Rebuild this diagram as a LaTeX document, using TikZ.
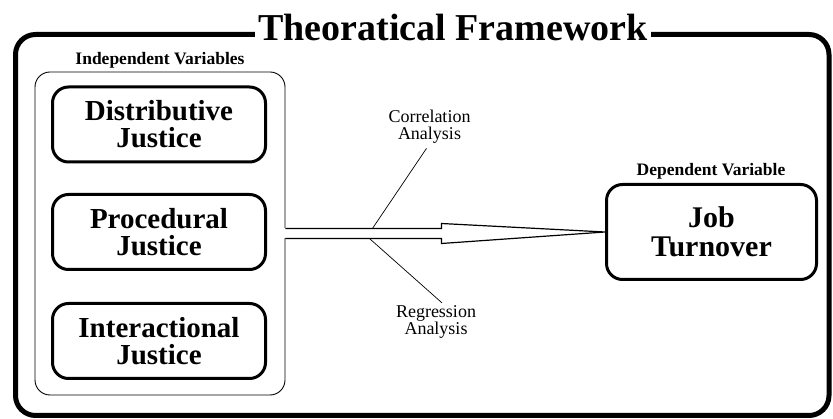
\documentclass[tikz,border=0pt]{standalone}
\usepackage{fontspec}
\setmainfont{Liberation Serif}
\usetikzlibrary{calc}

\begin{document}
\begin{tikzpicture}[x=1pt,y=-1pt]
  \useasboundingbox (0,0) rectangle (833,419);

  % outer frame with its title
  \draw[line width=5pt,rounded corners=20pt] (15.5,34.5) rectangle (829,415.5);
  \node[fill=white,inner xsep=3pt,inner ysep=0pt,font=\bfseries\fontsize{38}{40}\selectfont] (title) at (453,28) {Theoratical Framework};

  \begin{scope}[every node/.style={font=\bfseries\fontsize{17.5}{19}\selectfont,inner sep=0pt}]
    \node (indeplabel) at (160,60)  {Independent Variables};
    \node (deplabel)   at (711,171) {Dependent Variable};
  \end{scope}

  \node[draw,line width=0.9pt,rounded corners=15pt,minimum width=250pt,minimum height=323pt,inner sep=0pt] (indep) at (160,233.5) {};

  \begin{scope}[every node/.style={draw,line width=3pt,rounded corners=16pt,align=center,inner sep=0pt,minimum width=213pt,minimum height=75pt,font=\bfseries\fontsize{29}{27}\selectfont}]
    \node (distr) at (159,124.5) {Distributive\\Justice};
    \node (proc)  at (159,232)   {Procedural\\Justice};
    \node (inter) at (159,341)   {Interactional\\Justice};
    \node[minimum width=210pt,minimum height=95pt,font=\bfseries\fontsize{30}{29}\selectfont] (job) at (711.5,232) {Job\\Turnover};
  \end{scope}

  % hollow arrow out of the group
  \fill[white] ($(indep.east)+(-2,-5)$) rectangle ($(indep.east)+(2,5)$);
  \draw[line width=1.2pt,line join=miter] ($(indep.east)+(0,-5)$) -- ++(156,0) -- ++(0,-5) -- (job.west)
    -- ($(indep.east)+(156,10)$) -- ++(0,-5) -- ($(indep.east)+(0,5)$);

  \begin{scope}[every node/.style={font=\fontsize{18}{17}\selectfont,align=center,inner sep=0pt}]
    \node (corr) at (429.5,126.5) {Correlation\\Analysis};
    \node (regr) at (436,321.5)   {Regression\\Analysis};
  \end{scope}
  \draw[line width=0.7pt] ($(indep.east)+(87,-5)$) -- ([xshift=-3pt,yshift=-5pt]corr.south);
  \draw[line width=0.7pt] ($(indep.east)+(84,5)$) -- ([xshift=6pt,yshift=2pt]regr.north);

\end{tikzpicture}
\end{document}
